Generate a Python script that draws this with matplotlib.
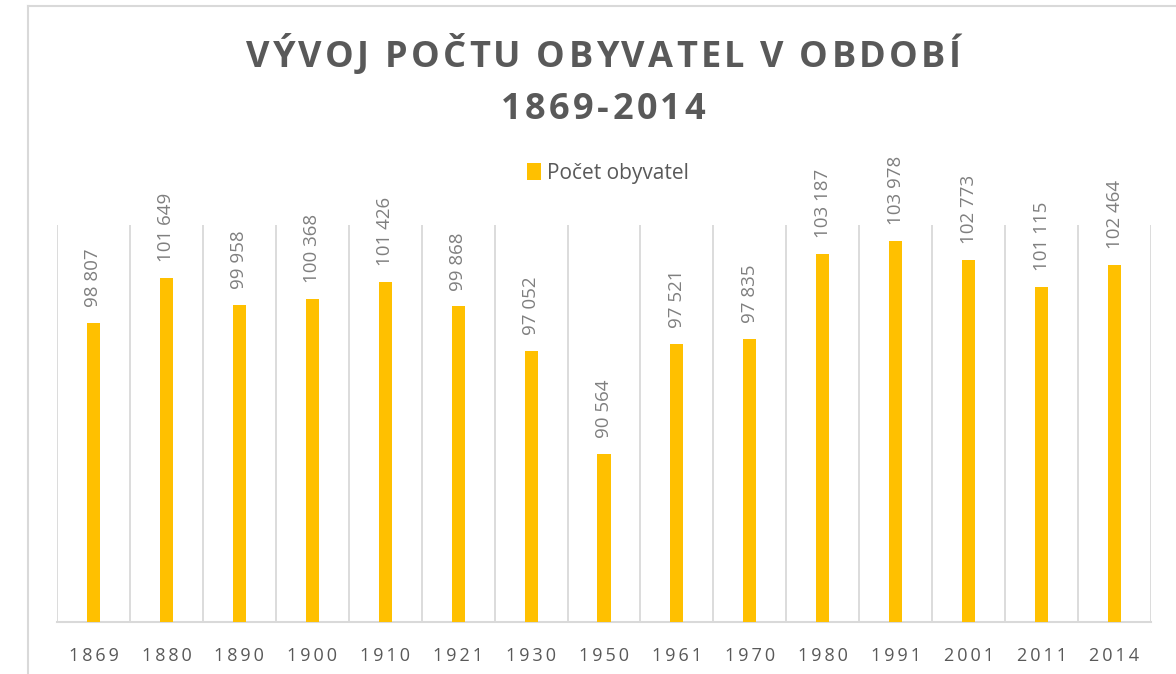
import matplotlib
matplotlib.use("Agg")
import matplotlib.pyplot as plt
from matplotlib.lines import Line2D
from matplotlib.font_manager import FontProperties

years = ["1869", "1880", "1890", "1900", "1910", "1921", "1930", "1950",
         "1961", "1970", "1980", "1991", "2001", "2011", "2014"]
population = [98807, 101649, 99958, 100368, 101426, 99868, 97052, 90564,
              97521, 97835, 103187, 103978, 102773, 101115, 102464]
series_name = "Počet obyvatel"
title_lines = ["VÝVOJ POČTU OBYVATEL V OBDOBÍ", "1869-2014"]

plt.rcParams['font.family'] = ['Open Sans', 'DejaVu Sans']

W, H = 1176, 674
fig = plt.figure(figsize=(W / 100, H / 100), dpi=100)
fig.patch.set_facecolor("white")

def fx(px):
    return px / W

def fy(py):
    return 1 - py / H

ax = fig.add_axes([fx(57), fy(622), fx(1151) - fx(57), fy(225) - fy(622)])

x = list(range(len(years)))
bars = ax.bar(x, population, width=0.18, color="#FFC000", zorder=3)

ax.set_xlim(-0.5, len(years) - 0.5)
ax.set_ylim(80000, 105000)

for b in [i - 0.5 for i in range(len(years) + 1)]:
    ax.axvline(b, color="#d9d9d9", lw=1.3, zorder=1)

for s in ["top", "right", "left"]:
    ax.spines[s].set_visible(False)
ax.spines["bottom"].set_color("#d9d9d9")
ax.spines["bottom"].set_linewidth(1.5)
ax.set_yticks([])

def spaced(s):
    return "\u2009".join(s)

ax.set_xticks(x)
ax.set_xticklabels([spaced(y) for y in years], fontsize=13, color="#595959")
ax.tick_params(axis="x", length=0, pad=18)

for xi, v in zip(x, population):
    lbl = f"{v:,}".replace(",", " ")
    ax.annotate(lbl, (xi, v), xytext=(0, 11.5), textcoords="offset points",
                rotation=90, ha="center", va="bottom", fontsize=13.5,
                color="#7f7f7f")

# Title with letter spacing, drawn char by char
renderer = fig.canvas.get_renderer()
tprops = FontProperties(family=['Open Sans', 'DejaVu Sans'], weight='bold', size=26)

def char_w(c):
    if c == " ":
        w1, _, _ = renderer.get_text_width_height_descent("a a", tprops, ismath=False)
        w2, _, _ = renderer.get_text_width_height_descent("aa", tprops, ismath=False)
        return w1 - w2
    w, _, _ = renderer.get_text_width_height_descent(c, tprops, ismath=False)
    return w

def spaced_title(text, cx, cy, gap):
    widths = [char_w(c) for c in text]
    total = sum(widths) + gap * (len(text) - 1)
    xpos = cx - total / 2
    for c, w in zip(text, widths):
        if c != " ":
            fig.text(fx(xpos), fy(cy), c, ha="left", va="center",
                     fontproperties=tprops, color="#595959")
        xpos += w + gap

spaced_title(title_lines[0], 603, 58, 3.2)
spaced_title(title_lines[1], 603, 110, 3.4)

leg = ax.legend([bars], [series_name], loc="center",
                bbox_to_anchor=(fx(608), fy(173)), bbox_transform=fig.transFigure,
                frameon=False, fontsize=15, handlelength=0.7, handleheight=0.9,
                handletextpad=0.3, labelcolor="#595959")

fig.add_artist(Line2D([fx(28), fx(28)], [fy(6), 0], transform=fig.transFigure,
                      color="#d9d9d9", lw=1.5))
fig.add_artist(Line2D([fx(28), 1], [fy(6), fy(6)], transform=fig.transFigure,
                      color="#d9d9d9", lw=1.5))

fig.savefig("out.png", dpi=100, facecolor="white")
